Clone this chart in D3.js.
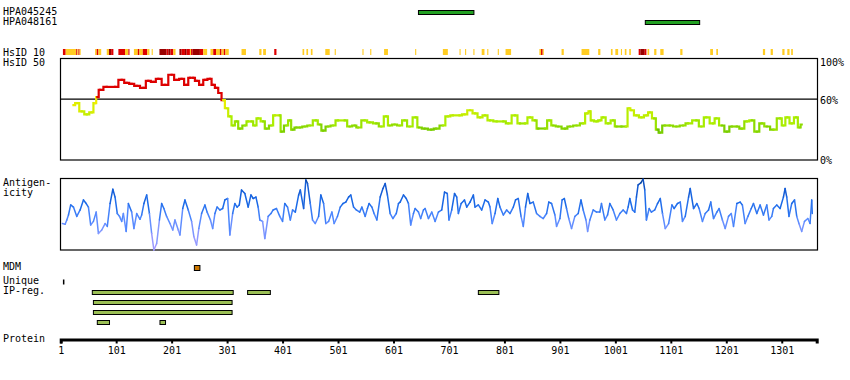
<!DOCTYPE html>
<html><head><meta charset="utf-8">
<script src="https://cdn.jsdelivr.net/npm/d3@7"></script>
<style>
body{margin:0;background:#fff}
text{font-family:"DejaVu Sans Mono",monospace;font-size:10px;fill:#000}
</style>
</head><body><svg id="c" width="850" height="380"></svg>
<script>
// ---------------- DATA ----------------
const proteinLength = 1364;
const tickLabels = [1,101,201,301,401,501,601,701,801,901,1001,1101,1201,1301];

const hpaNames = ["HPA045245","HPA048161"];
const hpaStart = [646,1055];
const hpaEnd   = [746,1153];

// HsID 10 identity strip: [start, end, level] level: y=yellow, r=red, d=dark red
const hsid10 = [
 [5,10,"r"],[10,29,"y"],[29,31,"r"],[31,33,"y"],[33,35,"r"],[35,37,"y"],
 [63,66,"y"],[66,69,"r"],[69,74,"y"],[84,88,"y"],[88,92,"d"],[92,96,"r"],
 [105,117,"r"],[117,123,"y"],[123,125,"r"],[133,140,"y"],[140,143,"r"],[143,149,"y"],
 [149,157,"r"],[157,161,"y"],[165,167,"y"],
 [179,192,"d"],[192,195,"r"],[195,199,"d"],[199,204,"r"],[204,208,"y"],
 [215,219,"d"],[219,225,"r"],[225,228,"d"],[228,234,"r"],[234,236,"y"],[236,239,"r"],
 [239,252,"d"],[252,258,"r"],[258,265,"y"],
 [271,276,"y"],[276,281,"r"],[281,288,"y"],[288,291,"r"],[291,295,"y"],[295,298,"r"],[298,304,"y"],
 [327,335,"y"],[359,363,"y"],[366,371,"y"],[386,390,"r"],
 [437,440,"y"],[444,447,"y"],[452,455,"y"],[478,486,"y"],[495,497,"y"],
 [545,547,"y"],[559,561,"y"],[584,591,"y"],[640,642,"y"],[690,699,"y"],
 [720,722,"y"],[730,732,"y"],[745,747,"y"],[760,765,"y"],[770,772,"y"],
 [789,791,"y"],[803,813,"y"],[864,867,"y"],[867,870,"r"],[870,872,"y"],
 [904,908,"y"],[940,954,"y"],[970,974,"y"],[993,996,"y"],[1001,1006,"y"],
 [1011,1013,"y"],[1018,1021,"y"],[1026,1029,"y"],
 [1043,1046,"r"],[1046,1054,"d"],[1054,1057,"r"],
 [1059,1062,"y"],[1071,1075,"y"],[1082,1088,"y"],[1118,1122,"y"],
 [1172,1177,"y"],[1183,1186,"y"],[1267,1271,"y"],[1281,1285,"y"],
 [1302,1306,"y"],[1311,1315,"y"],[1318,1321,"y"]
];

// HsID 50 (% identity)
const hsid50Pos = [24,30,39,48,57,63,67,72,84,99,111,120,129,138,150,159,168,177,189,201,210,219,228,234,240,246,255,261,270,276,282,288,294,300,306,312,318,324,333,339,345,351,357,366,372,381,387,396,399,408,414,419,426,432,
 441,450,461,468,474,483,492,501,513,522,531,537,549,558,570,579,588,594,603,612,621,630,641,647,657,669,678,690,699,708,720,729,739,748,757,766,775,787,799,808,820,829,838,847,856,862,874,882,889,898,910,919,931,943,950,955,958,967,973,
 979,988,997,1003,1012,1020,1026,1030,1039,1048,1057,1063,1071,1077,1081,1090,1099,1111,1123,1132,1147,1156,1165,1177,1183,1193,1202,1211,1220,1229,1238,1247,1256,1265,1274,1286,1298,1304,1311,1319,1327,1333,1337];
const hsid50Val = [54,56,48,45,47,56,62,69,72,72,79,76,75,73,71,78,77,80,74,84,79,80,74,81,81,78,74,79,80,74,71,66,59,51,43,34,38,31,34,38,38,34,41,38,31,34,44,44,28,34,39,30,32,32,
 33,34,39,35,29,33,34,39,39,33,34,32,39,37,36,33,43,34,35,34,39,33,42,32,31,30,31,34,43,44,44,45,49,46,42,44,39,38,38,36,44,36,36,42,39,31,31,39,34,33,31,33,34,36,46,48,39,38,39,
 42,36,39,33,33,33,51,49,44,42,44,47,41,30,27,34,34,33,34,36,39,33,42,36,41,34,28,33,33,31,38,39,28,36,33,30,41,34,42,36,42,32,35];

// Antigenicity (relative scale 0-100)
const antiPos = [4,9,12,15,19,24,30,36,42,47,51,55,60,65,69,75,81,85,90,95,99,103,107,111,114,119,123,129,133,138,144,147,151,156,161,165,169,174,179,183,187,192,198,203,207,213,216,221,225,231,237,241,246,250,255,261,265,271,275,279,283,288,293,297,302,306,311,315,319,323,327,333,339,344,348,353,357,360,365,369,375,380,384,390,396,401,405,410,415,419,424,430,433,439,443,446,451,455,460,466,470,475,479,484,490,494,500,505,510,515,520,524,529,534,540,544,550,554,557,562,566,571,577,582,586,590,595,600,606,610,613,619,624,628,632,637,640,646,650,655,
 658,664,670,676,682,688,693,698,701,706,711,715,718,723,729,733,739,745,748,754,760,766,772,775,779,784,789,793,799,805,811,817,821,826,831,835,839,843,847,853,859,865,871,877,881,886,892,895,901,905,909,913,917,922,928,934,939,943,948,951,955,961,967,973,976,982,987,991,997,1003,1009,1015,1021,1024,1027,1032,1036,1039,1042,1047,1051,1054,1057,1062,1066,1072,1077,1082,1086,1091,1097,1103,1107,1113,1118,1122,1127,1133,1136,1142,1148,1152,1158,1163,1169,1173,1178,1184,1188,1194,1199,1205,1210,1214,1220,1226,1230,1235,1240,1246,1250,1256,1262,1268,1274,1278,1283,1286,1292,1298,1304,1307,1310,1314,1319,1324,1328,1332,1337,1342,1348,1352,1355,1356];
const antiVal = [37,36,42,49,63,60,47,56,70,65,60,35,40,53,23,28,37,33,65,85,74,51,47,40,51,26,65,53,30,51,43,49,65,77,51,23,0,9,42,65,58,47,37,28,42,28,21,58,70,56,40,19,7,30,51,63,53,42,30,51,60,56,58,70,72,21,51,65,60,63,84,79,60,77,72,74,60,42,40,16,47,51,56,58,47,40,65,60,42,56,53,77,84,58,98,93,65,42,37,47,77,65,37,40,53,37,47,60,65,67,74,77,60,56,53,60,47,58,65,60,51,42,74,86,93,77,51,44,51,65,67,77,72,65,35,51,58,53,44,56,
 58,44,53,40,53,56,81,79,42,56,79,74,51,65,70,60,67,77,60,63,56,70,67,60,37,51,72,60,49,56,51,60,70,72,47,33,60,79,65,67,51,47,44,51,67,65,49,33,44,70,72,58,44,30,47,51,70,56,42,26,42,56,53,53,65,42,49,65,56,42,51,56,51,60,72,56,53,74,91,94,99,84,42,58,53,56,65,72,51,30,37,63,58,65,67,40,47,74,86,58,65,58,40,51,56,67,44,53,58,42,30,47,51,33,65,67,63,37,47,58,65,51,63,49,63,42,47,58,63,58,74,86,74,47,65,70,47,37,26,40,44,37,70,51];

const mdmStart = [242], mdmEnd = [252];
const uniqueStart = [5], uniqueEnd = [6];
// IP-reg bars: [start, end, row]
const ipReg = [[58,312,0],[338,379,0],[754,791,0],[60,310,1],[60,310,2],[67,89,3],[180,190,3]];

// ---------------- DRAW ----------------
const svg = d3.select("#c");
svg.append("rect").attr("width",850).attr("height",380).attr("fill","#fff");

const x = d3.scaleLinear().domain([1, proteinLength]).range([60.7, 816.7]);
const yH = d3.scaleLinear().domain([0,100]).range([160,58.5]);
const yA = d3.scaleLinear().domain([0,100]).range([250,178.5]);

function label(t, lx, ly){ svg.append("text").attr("x",lx).attr("y",ly).text(t); }

// HPA antigen bars
hpaNames.forEach((n,i)=>{
  label(n, 3, 15 + i*10);
  svg.append("rect").attr("x",x(hpaStart[i])).attr("y",10.5+i*10)
    .attr("width",x(hpaEnd[i])-x(hpaStart[i])).attr("height",4)
    .attr("fill","#22a022").attr("stroke","#000").attr("stroke-width",1);
});

// HsID 10 strip
label("HsID 10", 3, 56);
const lvlColor = {y:"#ffcc22", r:"#dd0000", d:"#990000"};
svg.append("g").selectAll("rect").data(hsid10).join("rect")
  .attr("x",d=>x(d[0])).attr("y",49)
  .attr("width",d=>Math.max(1,x(d[1])-x(d[0]))).attr("height",6)
  .attr("fill",d=>lvlColor[d[2]]);

// HsID 50 panel
label("HsID 50", 3, 66);
svg.append("rect").attr("x",60.5).attr("y",58.5).attr("width",757).attr("height",101.5)
  .attr("fill","none").attr("stroke","#000").attr("stroke-width",1.2);
svg.append("line").attr("x1",60.5).attr("x2",817.5).attr("y1",yH(60)).attr("y2",yH(60))
  .attr("stroke","#000").attr("stroke-width",1.2);
label("100%", 820, 66); label("60%", 820, 104); label("0%", 820, 164);

const hColor = d3.scaleLinear().domain([25,30,38,48,58])
  .range(["#55aa00","#77cc00","#aaee00","#ccee00","#eeee00"]).clamp(true);
const gH = svg.append("g");
for(let i=0;i<hsid50Pos.length-1;i++){
  const x0 = x(hsid50Pos[i]), x1 = x(hsid50Pos[i+1]);
  const xm = (x0+x1)/2;
  const y0 = yH(hsid50Val[i]), y1 = yH(hsid50Val[i+1]);
  const path = d3.path();
  path.moveTo(x0,y0); path.lineTo(xm,y0); path.lineTo(xm,y1); path.lineTo(x1,y1);
  const m = (hsid50Val[i]+hsid50Val[i+1])/2;
  gH.append("path").attr("d",path.toString()).attr("fill","none")
    .attr("stroke", m>=60 ? "#dd0000" : hColor(m))
    .attr("stroke-width",2.2).attr("stroke-linecap","square");
}

// Antigenicity panel
label("Antigen-", 3, 186); label("icity", 3, 196);
svg.append("rect").attr("x",60.5).attr("y",178.5).attr("width",757).attr("height",71.5)
  .attr("fill","none").attr("stroke","#000").attr("stroke-width",1.2);
const aColor = d3.scaleLinear().domain([0,25,45,65,90,100])
  .range(["#a899ff","#8899ff","#4f88ff","#1a6ae8","#1155cc","#0a3f8f"]).clamp(true);
const gA = svg.append("g");
for(let i=0;i<antiPos.length-1;i++){
  const m = (antiVal[i]+antiVal[i+1])/2;
  gA.append("line")
    .attr("x1",x(antiPos[i])).attr("y1",yA(antiVal[i]))
    .attr("x2",x(antiPos[i+1])).attr("y2",yA(antiVal[i+1]))
    .attr("stroke", aColor(m)).attr("stroke-width",1.5).attr("stroke-linecap","round");
}

// MDM
label("MDM", 3, 270);
svg.append("g").selectAll("rect").data(mdmStart).join("rect")
  .attr("x",(d,i)=>x(d)).attr("y",265.5).attr("width",(d,i)=>x(mdmEnd[i])-x(d)).attr("height",5)
  .attr("fill","#cc7700").attr("stroke","#000").attr("stroke-width",1);

// Unique
label("Unique", 3, 284);
svg.append("g").selectAll("rect").data(uniqueStart).join("rect")
  .attr("x",(d,i)=>x(d)).attr("y",279.5).attr("width",(d,i)=>Math.max(1.5,x(uniqueEnd[i])-x(d))).attr("height",5)
  .attr("fill","#000");

// IP-reg
label("IP-reg.", 3, 294);
svg.append("g").selectAll("rect").data(ipReg).join("rect")
  .attr("x",d=>x(d[0])).attr("y",d=>290.5+d[2]*10)
  .attr("width",d=>x(d[1])-x(d[0])).attr("height",4)
  .attr("fill","#9bbf55").attr("stroke","#000").attr("stroke-width",1);

// Protein axis
label("Protein", 3, 342);
const ax = svg.append("g").attr("transform","translate(0,339.5)")
  .call(d3.axisBottom(x).tickValues(tickLabels).tickFormat(d3.format("d")).tickSize(4).tickSizeOuter(4));
ax.select(".domain").attr("stroke","#000").attr("stroke-width",3);
ax.selectAll(".tick line").attr("stroke","#000").attr("stroke-width",2);
ax.selectAll(".tick text").attr("font-family","DejaVu Sans Mono").attr("font-size","10px").attr("fill","#000");
</script>
</body></html>
